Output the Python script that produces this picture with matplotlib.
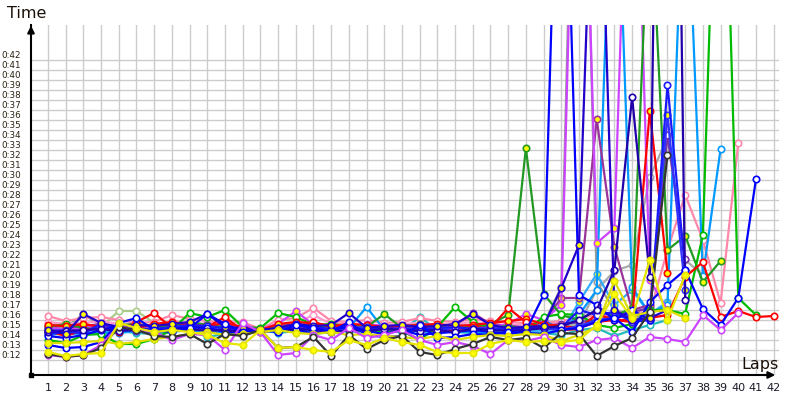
import matplotlib
matplotlib.use('Agg')
import matplotlib.pyplot as plt
from matplotlib.transforms import ScaledTranslation

plt.rcParams['font.family'] = ['DejaVu Sans']

laps = list(range(1, 43))
y_ticks = list(range(12, 43))
y_tick_labels = ["0:%d" % s for s in y_ticks]

dark_gray = [12.6, 12.3, 12.5, 13.2, 15.3, 15.0, 14.4, 14.3, 14.6, 13.6, 14.6, 14.4,
             15.0, 13.2, 13.3, 14.3, 12.4, 14.5, 13.1, 14.0, 14.4, 12.8, 12.5, 13.1, 13.6, 14.3, 14.0, 14.2,
             13.2, 14.7, 14.6, 12.4, 13.4, 14.2, 16.8, 32.5]
yellow_low = [12.8, 12.4, 12.6, 12.7, 15.7, 15.2, 14.8, 15.0, 14.8, 14.5, 13.7, 13.5,
              15.0, 13.2, 13.3, 13.0, 12.8, 14.0, 13.5, 14.2, 13.8, 13.5, 12.8, 12.7, 12.7, 13.6, 14.0, 13.8,
              13.9, 13.8, 14.0, 15.5, 18.6, 16.2, 22.0, 16.0, 20.5]
violet_low = [12.5, 12.3, 12.5, 13.5, 15.4, 15.0, 14.8, 14.0, 14.6, 14.5, 13.0, 15.7,
              14.8, 12.5, 12.7, 14.5, 14.0, 15.2, 14.2, 14.5, 15.0, 14.0, 13.5, 13.8, 13.4, 12.6, 14.0, 13.9,
              14.3, 13.5, 13.3, 14.0, 14.2, 13.2, 14.3, 14.1, 13.8, 16.5, 15.0, 16.7]
blue_a = [13.5, 13.2, 13.3, 13.8, 15.7, 16.2, 15.0, 14.8, 15.2, 16.6, 15.6, 14.8,
          15.0, 14.8, 15.5, 15.2, 14.8, 15.8, 14.5, 14.3, 14.4, 15.5, 14.2, 14.3, 14.6, 14.5, 14.8, 14.7,
          14.6, 15.0, 15.2, 15.8, 16.2, 14.8, 17.8, 19.5, 21.0, 17.1, 15.5, 18.2, 30.1]
green = [14.0, 13.7, 14.5, 14.6, 13.6, 13.6, 14.1, 15.0, 16.7, 16.3, 17.0, 15.3,
         15.2, 16.7, 16.3, 15.5, 15.6, 15.4, 15.0, 14.8, 14.9, 14.0, 15.3, 17.3, 15.8, 15.2, 15.4, 15.0,
         16.3, 16.6, 16.5, 15.5, 15.2, 15.6, 17.0, 17.0, 16.6, 24.5, 80.0, 18.2, 16.5]
forest = [15.3, 15.6, 15.2, 15.0, 15.5, 15.6, 15.3, 15.4, 15.8, 15.5, 15.3, 15.1,
          14.9, 15.3, 15.4, 15.5, 15.2, 15.6, 15.3, 16.6, 15.2, 15.6, 15.4, 15.5, 15.3, 15.6, 16.5, 33.2,
          18.6, 16.5, 16.0, 17.0, 16.4, 17.2, 60.0, 23.0, 24.4, 19.8, 21.9]
red_a = [14.9, 14.4, 15.0, 15.2, 14.8, 15.8, 16.7, 15.2, 15.0, 15.3, 16.3, 14.9,
         14.8, 15.0, 15.2, 15.8, 15.3, 15.4, 15.0, 15.2, 15.1, 15.2, 14.9, 15.0, 15.3, 15.2, 17.2, 15.8,
         15.2, 15.0, 15.1, 16.6, 16.0, 15.8, 16.2, 16.5, 20.3, 21.8, 16.3, 16.9, 16.3, 16.4]
red_b = [15.5, 15.4, 15.6, 15.3, 15.4, 15.2, 15.6, 15.8, 15.5, 15.4, 15.7, 15.3,
         15.0, 15.6, 15.8, 15.7, 15.4, 15.6, 15.5, 15.3, 15.4, 15.5, 15.6, 15.4, 15.5, 15.7, 15.9, 16.1,
         15.6, 15.4, 15.2, 15.8, 16.0, 16.0, 36.9, 20.7]
pink_a = [16.4, 15.9, 16.2, 16.3, 16.0, 15.7, 15.8, 16.5, 16.1, 15.9, 15.7, 15.8,
          15.1, 16.0, 16.2, 17.2, 15.9, 15.8, 16.0, 15.7, 15.8, 16.2, 15.9, 15.8, 16.1, 15.9, 15.8, 15.7,
          15.7, 15.9, 16.2, 16.5, 16.3, 16.6, 16.7, 23.0, 28.5, 24.0, 17.7, 33.7]
pink_b = [15.8, 15.6, 15.7, 15.9, 15.6, 15.5, 15.4, 15.9, 15.7, 15.6, 15.5, 15.4,
          15.1, 15.5, 15.7, 16.5, 15.6, 15.7, 15.5, 15.4, 15.6, 15.7, 15.5, 15.6, 15.8, 15.6, 15.5, 15.6,
          15.8, 15.6, 15.9, 16.2, 16.8, 16.3, 17.5, 35.4]
purple = [15.2, 15.5, 15.4, 15.6, 15.1, 15.3, 15.5, 15.6, 15.2, 15.4, 15.5, 15.2,
          14.9, 15.4, 15.6, 15.5, 15.3, 15.5, 15.3, 15.0, 15.2, 15.4, 15.3, 15.5, 16.7, 15.6, 15.4, 15.3,
          15.8, 18.2, 18.2, 36.1, 23.3, 17.0, 17.5]
purple2 = [15.0, 15.1, 15.3, 15.2, 15.0, 15.1, 15.2, 15.3, 15.1, 15.0, 15.2, 15.1,
           15.0, 15.1, 15.3, 15.2, 15.1, 15.3, 15.2, 15.1, 15.0, 15.2, 15.1, 15.3, 15.2, 15.1, 15.2, 15.0,
           15.4, 15.6, 15.8, 16.0, 16.4, 16.8, 17.2, 34.5, 22.1]
gray_a = [15.6, 15.2, 16.6, 15.4, 15.2, 15.4, 15.3, 15.5, 15.6, 15.5, 15.2, 15.0,
          15.0, 15.2, 15.4, 15.3, 15.0, 15.4, 15.5, 15.1, 15.3, 15.4, 15.5, 15.2, 15.3, 15.4, 15.5, 15.0,
          15.6, 19.3, 90.0, 19.8, 17.0, 16.5, 16.0]
gray_b = [15.1, 15.3, 15.2, 15.4, 15.0, 15.2, 15.1, 15.3, 15.4, 15.2, 15.1, 15.3,
          15.0, 15.2, 15.1, 15.3, 15.2, 15.4, 15.0, 15.2, 15.3, 15.1, 15.2, 15.0, 15.2, 15.1, 15.3, 15.2,
          15.3, 15.5, 15.6, 19.0, 20.9, 21.5, 30.3, 34.2, 22.0, 20.5]
indigo = [15.0, 14.6, 16.6, 15.7, 15.3, 15.5, 15.4, 15.6, 15.8, 16.6, 15.3, 15.2,
          15.0, 15.2, 15.6, 15.4, 15.5, 16.7, 15.2, 15.4, 15.5, 15.3, 15.4, 15.6, 16.6, 15.5, 15.2, 15.3,
          15.4, 19.2, 23.5, 75.0, 17.0, 16.0, 16.2, 17.0]
indigo2 = [14.8, 14.9, 15.0, 15.1, 14.9, 15.0, 14.8, 15.0, 15.1, 14.9, 15.0, 14.8,
           15.0, 14.9, 15.1, 15.0, 14.8, 15.0, 14.9, 15.1, 15.0, 14.9, 15.0, 14.8, 15.1, 15.0, 14.9, 15.0,
           15.2, 15.4, 16.0, 17.0, 21.0, 38.3, 20.3, 150.0, 18.0]
blue_b = [14.4, 14.2, 14.5, 15.0, 15.4, 15.2, 14.9, 15.1, 15.3, 15.2, 14.8, 14.7,
          15.0, 14.9, 15.1, 14.6, 15.0, 15.3, 14.9, 14.6, 15.0, 14.5, 14.7, 14.8, 15.0, 14.8, 14.6, 14.9,
          18.5, 80.0, 18.5, 17.5, 16.0, 17.0, 16.0]
blue_c = [14.6, 14.8, 14.7, 15.6, 15.2, 15.0, 15.1, 15.3, 15.5, 15.4, 15.2, 15.0,
          14.9, 15.2, 15.0, 15.3, 15.1, 15.4, 15.0, 15.2, 15.1, 15.0, 15.2, 15.3, 15.1, 15.0, 15.2, 15.1,
          15.3, 15.2, 17.0, 16.5, 16.8, 15.8, 16.0, 39.5, 21.0]
blue_d = [14.9, 15.0, 14.8, 15.3, 15.1, 14.9, 15.0, 15.2, 15.1, 15.3, 15.0, 14.9,
          15.0, 15.1, 15.2, 15.0, 15.1, 15.2, 15.3, 15.0, 15.2, 15.1, 15.0, 15.2, 15.1, 15.3, 15.0, 15.1,
          15.2, 15.0, 15.4, 16.0, 16.2, 16.6, 16.5, 36.5, 19.0]
lightblue = [14.5, 14.7, 14.6, 14.8, 14.7, 14.9, 14.8, 15.0, 14.9, 14.7, 14.8, 14.6,
             14.9, 14.8, 15.0, 14.7, 14.9, 15.2, 17.3, 15.0, 14.8, 14.9, 14.7, 14.9, 14.8, 14.6, 14.9, 14.7,
             16.0, 15.0, 16.5, 19.0, 70.0, 19.3, 16.6, 17.5, 65.0, 20.4, 33.1]
lightblue2 = [14.8, 14.6, 14.9, 15.0, 14.8, 15.1, 14.9, 15.2, 15.0, 14.9, 15.1, 14.8,
              15.0, 15.1, 14.9, 15.0, 15.2, 14.9, 15.1, 15.0, 14.8, 15.0, 14.9, 15.1, 15.0, 14.9, 15.1, 14.8,
              15.0, 14.8, 17.8, 20.6, 17.5, 19.0, 16.6, 17.8]
teal = [14.7, 14.5, 14.8, 14.6, 14.9, 14.7, 14.6, 14.8, 15.0, 14.3, 14.6, 14.8,
        15.0, 14.7, 14.9, 14.6, 14.8, 14.9, 14.7, 15.3, 14.9, 16.3, 15.0, 14.8, 14.7, 14.9, 14.6, 14.8,
        14.7, 14.5, 15.0, 15.2, 14.4, 15.0, 15.5, 16.0]
olive = [15.4, 15.8, 15.6, 15.3, 16.9, 16.9, 15.7, 15.5, 15.4, 15.6, 15.3, 15.2,
         15.0, 15.1, 15.3, 15.5, 15.2, 15.3, 15.1, 15.5, 15.3, 15.2, 15.4, 15.0, 15.3, 15.1, 15.4, 15.2,
         15.0, 15.3, 15.5, 16.0, 16.3, 16.5, 16.8, 17.2]
magenta2 = [15.3, 15.0, 15.2, 15.5, 15.4, 15.6, 15.2, 15.4, 15.5, 15.6, 15.3, 15.4,
            15.1, 15.6, 16.9, 15.5, 15.4, 15.3, 15.6, 15.4, 15.2, 15.6, 15.5, 15.4, 15.5, 15.3, 15.6, 16.6,
            16.0, 17.5, 85.0, 23.7, 25.2, 80.0, 20.0, 17.0]
yellow2 = [13.7, 13.7, 13.8, 13.9, 13.6, 13.8, 14.1, 14.3, 14.6, 14.8, 14.5, 14.6,
           14.8, 15.0, 14.7, 14.6, 14.8, 14.5, 14.6, 14.4, 14.3, 14.1, 14.4, 14.0, 14.3, 14.5, 14.4, 14.6,
           14.5, 13.9, 14.5, 15.3, 19.9, 16.4, 16.8, 17.0, 16.2]

YF = '#ffff00'
W = 'white'
series = [
    (olive, '#aacc88', W),
    (teal, '#22bbbb', W),
    (gray_b, '#aaaaaa', W),
    (gray_a, '#999999', W),
    (pink_b, '#ff99cc', W),
    (pink_a, '#ff88aa', W),
    (lightblue2, '#33aaff', YF),
    (lightblue, '#0099ff', W),
    (purple2, '#7733aa', W),
    (purple, '#993399', YF),
    (magenta2, '#cc44ff', YF),
    (forest, '#229922', YF),
    (green, '#00bb00', W),
    (red_b, '#ff0000', YF),
    (red_a, '#ff0000', W),
    (blue_d, '#3333ff', YF),
    (blue_c, '#1a1aff', W),
    (blue_b, '#0000ff', W),
    (indigo2, '#2200aa', W),
    (indigo, '#2200cc', YF),
    (blue_a, '#0000ff', W),
    (yellow2, '#dddd00', YF),
    (violet_low, '#cc44ff', W),
    (dark_gray, '#333333', W),
    (yellow_low, '#e6e600', YF),
]

fig = plt.figure(figsize=(8, 4), dpi=100)
ax = fig.add_axes([31 / 800, 25 / 400, 748 / 800, 350 / 400])
ax.set_xlim(0.04, 42.3)
ax.set_ylim(10.5, 45.5)

for vals, col, face in series:
    xs = laps[:len(vals)]
    ax.plot(xs, vals, color=col, lw=1.6, marker='o', ms=4.6,
            markerfacecolor=face, markeredgecolor=col, markeredgewidth=1.2,
            solid_joinstyle='round', zorder=3)

ax.set_xticks(laps)
ax.set_xticklabels([str(l) for l in laps], fontsize=8, color='#1a1a2a')
ax.set_yticks(y_ticks)
ax.set_yticklabels(y_tick_labels, fontsize=6.3, color='#2a2010')
ax.tick_params(axis='both', length=0)
ax.tick_params(axis='x', pad=6)
ax.tick_params(axis='y', pad=7)
for lab in ax.get_yticklabels():
    lab.set_transform(lab.get_transform() + ScaledTranslation(0, 0.05, fig.dpi_scale_trans))

ax.grid(True, color='#cccccc', lw=1.0)
ax.set_axisbelow(True)

for s in ['top', 'right']:
    ax.spines[s].set_visible(False)
ax.spines['left'].set_color('black')
ax.spines['left'].set_linewidth(1.5)
ax.spines['bottom'].set_color('black')
ax.spines['bottom'].set_linewidth(1.5)
ax.spines['bottom'].set_bounds(0.04, 41.9)

ax.annotate('', xy=(0, 1.006), xytext=(0, 0.97), xycoords='axes fraction',
            arrowprops=dict(arrowstyle='-|>', color='black', lw=1.5, mutation_scale=10))
ax.annotate('', xy=(0.9987, 0), xytext=(0.975, 0), xycoords='axes fraction',
            arrowprops=dict(arrowstyle='-|>', color='black', lw=1.5, mutation_scale=10))
ax.plot([0], [0], marker='s', ms=3, color='black', transform=ax.transAxes, clip_on=False, zorder=5)

fig.text(7 / 800, 1 - 13 / 400, 'Time', fontsize=11.5, va='center', ha='left', color='#1a1008')
fig.text(741 / 800, 1 - 365 / 400, 'Laps', fontsize=11.5, va='center', ha='left', color='#1a1008')

fig.savefig('out.png', dpi=100)
